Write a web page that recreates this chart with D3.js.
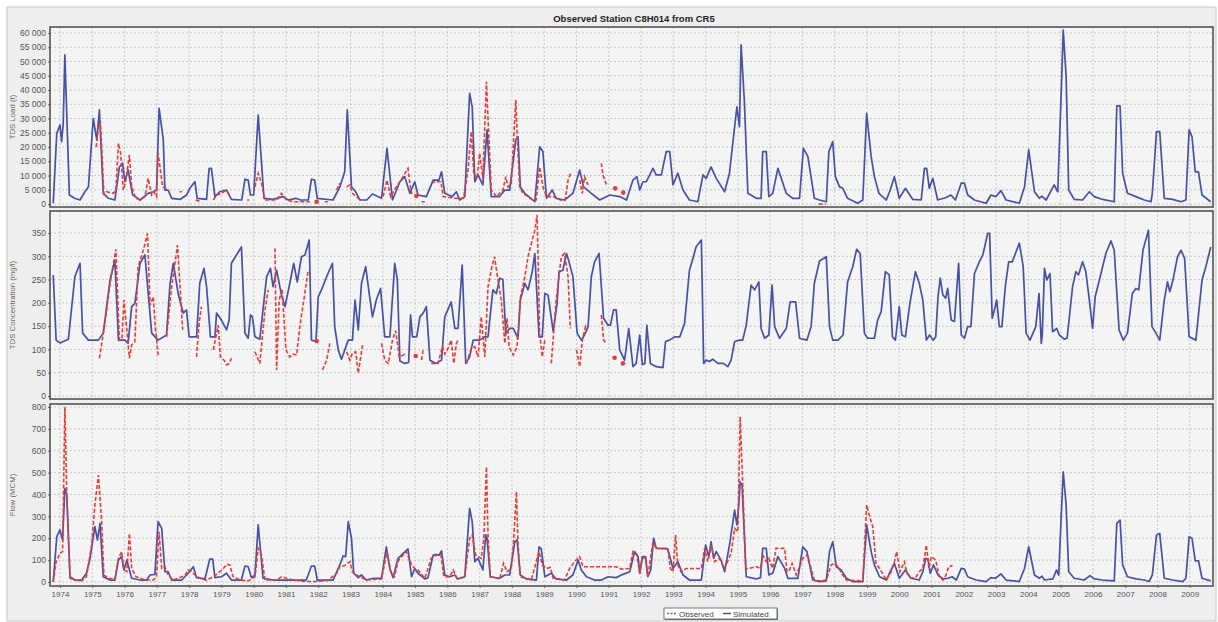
<!DOCTYPE html>
<html>
<head>
<meta charset="utf-8">
<title>Observed Station C8H014 from CR5</title>
<script src="https://d3js.org/d3.v7.min.js"></script>
<style>
  body { margin: 0; background: #fff; }
  text { font-family: "Liberation Sans", Arial, sans-serif; }
</style>
</head>
<body>
<svg width="1218" height="622"></svg>
<script>
// ---- data (decimal year, value); null = gap in the record ----
const years = d3.range(1974, 2010);
const loadTicks = d3.range(0, 60001, 5000);
const concTicks = d3.range(0, 351, 50);
const flowTicks = d3.range(0, 801, 100);
const seriesNames = ["Observed", "Simulated"];

const loadSim = [[1973.79,250],[1973.9,24800],[1974.0,27700],[1974.05,21900],[1974.1,28300],[1974.15,52300],[1974.29,3150],[1974.45,2000],[1974.62,1400],[1974.77,4300],[1974.88,6000],[1975.03,30000],[1975.14,22500],[1975.22,33000],[1975.34,3750],[1975.5,2000],[1975.7,1400],[1975.84,13000],[1975.94,14300],[1976.01,7800],[1976.11,11900],[1976.25,3200],[1976.48,1400],[1976.73,3750],[1976.89,4300],[1976.99,4900],[1977.07,33600],[1977.2,22500],[1977.25,4900],[1977.35,4900],[1977.46,2000],[1977.72,1600],[1977.92,3150],[1978.02,5500],[1978.18,7800],[1978.25,2000],[1978.54,1600],[1978.62,12500],[1978.69,12500],[1978.8,2600],[1978.95,4300],[1979.16,4900],[1979.31,1600],[1979.63,1400],[1979.73,8700],[1979.83,8400],[1979.9,3150],[1980.0,3150],[1980.14,31200],[1980.32,2000],[1980.6,1600],[1980.91,2600],[1981.07,1400],[1981.31,2000],[1981.45,1400],[1981.69,1400],[1981.79,8700],[1981.89,8400],[1981.97,2000],[1982.46,1400],[1982.67,6000],[1982.82,11300],[1982.9,33000],[1983.03,6000],[1983.16,4300],[1983.29,1400],[1983.5,1400],[1983.68,3500],[1983.96,2000],[1984.13,19500],[1984.3,1400],[1984.53,7800],[1984.68,9600],[1984.84,3750],[1984.99,7800],[1985.09,3150],[1985.35,2600],[1985.56,8400],[1985.74,8400],[1985.82,11300],[1985.92,3750],[1986.15,2600],[1986.28,4300],[1986.38,1400],[1986.54,2600],[1986.69,38800],[1986.77,34100],[1986.85,7800],[1986.95,10200],[1987.1,6700],[1987.23,26000],[1987.36,2600],[1987.62,2600],[1987.78,4900],[1987.93,4900],[1988.12,22500],[1988.19,23600],[1988.26,6000],[1988.4,3750],[1988.71,800],[1988.86,20100],[1988.96,18400],[1989.07,2000],[1989.25,4900],[1989.37,2000],[1989.63,1400],[1989.89,3750],[1990.1,11900],[1990.22,6000],[1990.46,3750],[1990.72,1400],[1991.03,3150],[1991.34,2600],[1991.55,1400],[1991.75,8400],[1991.87,9600],[1991.96,4900],[1992.06,7800],[1992.16,7800],[1992.37,12500],[1992.47,10200],[1992.63,10200],[1992.78,18400],[1992.89,18400],[1992.99,6700],[1993.14,10800],[1993.3,4900],[1993.5,1400],[1993.76,800],[1993.92,10200],[1994.02,9000],[1994.17,13000],[1994.33,9000],[1994.59,4300],[1994.74,10800],[1994.9,27100],[1994.97,34100],[1995.05,27100],[1995.1,55800],[1995.2,36500],[1995.31,3750],[1995.57,2000],[1995.72,2000],[1995.77,18400],[1995.88,18400],[1995.96,2600],[1996.08,3750],[1996.24,12500],[1996.5,3750],[1996.7,2000],[1996.91,2000],[1997.03,19500],[1997.17,16600],[1997.37,2000],[1997.53,1400],[1997.74,800],[1997.82,18400],[1997.94,21900],[1998.02,9600],[1998.15,6000],[1998.25,5500],[1998.4,2000],[1998.71,250],[1998.87,1400],[1998.99,31800],[1999.13,16600],[1999.23,9600],[1999.37,3750],[1999.6,1400],[1999.72,4900],[1999.85,9600],[2000.0,2000],[2000.19,5500],[2000.42,1600],[2000.68,1400],[2000.78,12500],[2000.85,12500],[2000.93,5500],[2001.04,9000],[2001.19,1400],[2001.45,2300],[2001.6,3150],[2001.74,1400],[2001.92,7300],[2002.02,7300],[2002.12,3150],[2002.33,1400],[2002.69,250],[2002.84,3150],[2003.0,2600],[2003.15,4700],[2003.31,1400],[2003.72,250],[2003.88,6000],[2004.01,19000],[2004.19,4300],[2004.34,2000],[2004.42,2800],[2004.55,1400],[2004.8,6700],[2004.91,4300],[2005.01,36500],[2005.08,61000],[2005.17,44700],[2005.25,4900],[2005.42,1600],[2005.68,1400],[2005.89,4300],[2006.04,2600],[2006.3,1600],[2006.66,800],[2006.74,34400],[2006.84,34400],[2006.92,10800],[2007.07,3750],[2007.33,2600],[2007.59,1400],[2007.8,800],[2007.84,3750],[2007.97,25400],[2008.07,25400],[2008.21,2000],[2008.47,1600],[2008.73,800],[2008.88,1400],[2008.98,26000],[2009.07,23600],[2009.17,11300],[2009.27,11300],[2009.38,3150],[2009.65,800]];

const loadObs = [[1975.12,20000],[1975.19,27100],[1975.25,29000],[1975.3,18000],[1975.36,3500],[1975.44,4300],[1975.65,3750],[1975.73,4900],[1975.81,21300],[1975.88,17800],[1975.96,4900],[1976.04,8400],[1976.15,17200],[1976.22,6000],[1976.35,2000],[1976.48,1400],[1976.63,2600],[1976.73,9000],[1976.84,3150],[1976.91,4300],[1976.99,2600],[1977.04,17800],[1977.18,6000],[1977.3,5500],null,[1977.7,4300],[1977.78,4300],null,[1978.2,1400],[1978.38,800],null,[1978.75,1400],[1978.85,3150],[1979.0,3750],[1979.16,4900],[1979.26,2600],null,[1979.8,1400],[1979.86,1400],null,[1980.04,6000],[1980.14,10800],[1980.24,7300],[1980.35,1400],[1980.71,1400],[1980.86,3750],[1981.02,1400],[1981.22,800],[1981.45,800],[1981.74,800],null,[1981.95,800],null,[1982.2,800],[1982.3,800],null,[1982.57,4900],[1982.67,7300],null,[1982.88,6000],[1982.98,6700],[1983.06,3750],[1983.18,2600],[1983.31,1400],null,[1984.01,2600],[1984.13,8400],[1984.24,2600],[1984.42,6000],[1984.53,7800],[1984.78,12500],[1984.84,7000],[1984.9,3500],null,[1985.04,2800],null,[1985.2,800],[1985.3,800],null,[1985.5,7300],[1985.61,7800],[1985.8,7800],[1985.87,2600],[1986.23,2000],[1986.5,2000],[1986.64,11900],[1986.74,25400],[1986.82,10800],[1986.92,9000],[1987.0,17800],[1987.1,9000],[1987.21,42900],[1987.29,22500],[1987.36,4900],[1987.52,2600],[1987.72,4900],[1987.81,9600],[1987.88,6000],[1987.98,7000],[1988.03,17800],[1988.12,36500],[1988.17,22000],[1988.24,6000],[1988.34,3750],[1988.65,1400],[1988.75,1400],[1988.86,13000],[1988.96,6000],[1989.07,2600],[1989.28,2600],[1989.5,1400],[1989.65,1400],[1989.74,8400],[1989.84,11300],null,[1990.1,8400],[1990.18,3750],[1990.25,9600],[1990.36,6700],null,[1990.77,14300],[1990.82,10200],[1990.93,6700],null,[1991.2,5500],null,[1991.45,4000],null,[1997.5,0],[1997.72,0]];

const concSim = [[1973.79,260],[1973.88,120],[1974.0,114],[1974.26,122],[1974.46,256],[1974.62,285],[1974.7,135],[1974.88,120],[1975.19,120],[1975.34,135],[1975.55,249],[1975.7,292],[1975.81,120],[1976.01,120],[1976.11,113],[1976.22,192],[1976.32,199],[1976.48,285],[1976.63,303],[1976.84,135],[1977.04,120],[1977.3,131],[1977.41,242],[1977.51,285],[1977.66,220],[1977.82,178],[1977.92,185],[1978.0,127],[1978.23,127],[1978.33,242],[1978.46,274],[1978.54,235],[1978.66,127],[1978.8,127],[1978.85,178],[1979.0,163],[1979.16,142],[1979.24,163],[1979.31,285],[1979.62,320],[1979.73,135],[1979.83,124],[1979.9,174],[1979.96,170],[1980.04,127],[1980.19,122],[1980.4,256],[1980.52,274],[1980.6,235],[1980.71,270],[1980.86,217],[1980.97,192],[1981.12,242],[1981.24,285],[1981.35,245],[1981.48,299],[1981.59,303],[1981.72,335],[1981.79,120],[1981.93,117],[1982.0,213],[1982.1,228],[1982.26,256],[1982.44,285],[1982.51,149],[1982.62,99],[1982.72,79],[1982.93,120],[1983.06,120],[1983.14,206],[1983.24,142],[1983.34,242],[1983.47,278],[1983.58,220],[1983.68,170],[1983.8,206],[1983.93,231],[1984.06,127],[1984.22,127],[1984.37,285],[1984.45,250],[1984.53,75],[1984.68,70],[1984.8,72],[1984.86,174],[1984.92,127],[1985.05,127],[1985.15,170],[1985.25,178],[1985.35,192],[1985.46,77],[1985.66,70],[1985.82,77],[1985.92,170],[1986.12,202],[1986.23,145],[1986.33,145],[1986.46,281],[1986.57,70],[1986.69,84],[1986.8,120],[1987.0,120],[1987.16,127],[1987.26,127],[1987.41,228],[1987.52,220],[1987.62,253],[1987.72,250],[1987.81,135],[1987.93,145],[1988.04,145],[1988.19,124],[1988.26,206],[1988.4,242],[1988.5,228],[1988.63,267],[1988.71,306],[1988.84,127],[1988.94,127],[1989.02,220],[1989.12,217],[1989.28,138],[1989.4,199],[1989.46,267],[1989.58,270],[1989.69,306],[1989.77,288],[1989.89,256],[1990.02,135],[1990.15,120],[1990.25,131],[1990.36,149],[1990.46,256],[1990.56,288],[1990.7,306],[1990.84,167],[1990.98,152],[1991.05,152],[1991.15,185],[1991.23,185],[1991.34,99],[1991.49,77],[1991.62,145],[1991.75,63],[1991.85,70],[1991.96,131],[1992.04,67],[1992.12,70],[1992.18,152],[1992.29,70],[1992.47,63],[1992.68,61],[1992.76,117],[1992.88,120],[1993.04,127],[1993.2,127],[1993.35,156],[1993.5,270],[1993.61,296],[1993.71,321],[1993.87,335],[1993.94,70],[1994.02,77],[1994.12,74],[1994.22,79],[1994.38,70],[1994.55,70],[1994.69,63],[1994.79,77],[1994.9,117],[1995.05,120],[1995.15,120],[1995.26,152],[1995.41,238],[1995.52,228],[1995.65,245],[1995.72,145],[1995.83,124],[1995.96,131],[1996.06,238],[1996.14,149],[1996.29,124],[1996.5,145],[1996.62,202],[1996.79,202],[1996.91,124],[1997.14,120],[1997.27,149],[1997.37,242],[1997.53,290],[1997.74,299],[1997.84,149],[1997.94,120],[1998.1,120],[1998.26,131],[1998.4,245],[1998.56,278],[1998.68,315],[1998.79,306],[1998.92,135],[1999.02,124],[1999.23,124],[1999.33,163],[1999.44,181],[1999.57,267],[1999.69,260],[1999.79,127],[1999.88,120],[2000.0,192],[2000.08,131],[2000.19,127],[2000.33,199],[2000.5,267],[2000.62,242],[2000.73,206],[2000.84,120],[2000.94,131],[2001.05,120],[2001.13,127],[2001.2,213],[2001.27,253],[2001.35,217],[2001.44,210],[2001.5,231],[2001.61,163],[2001.71,160],[2001.84,285],[2001.92,131],[2002.02,124],[2002.12,149],[2002.22,149],[2002.33,263],[2002.48,288],[2002.59,303],[2002.74,349],[2002.8,349],[2002.88,167],[2002.95,185],[2003.02,206],[2003.1,149],[2003.18,149],[2003.29,238],[2003.39,288],[2003.5,288],[2003.72,328],[2003.84,278],[2003.93,135],[2004.05,120],[2004.23,149],[2004.33,220],[2004.4,113],[2004.43,130],[2004.5,274],[2004.57,249],[2004.67,263],[2004.75,138],[2004.88,145],[2004.96,131],[2005.11,122],[2005.2,124],[2005.37,235],[2005.47,267],[2005.55,260],[2005.68,288],[2005.78,267],[2005.89,206],[2005.99,145],[2006.07,213],[2006.2,249],[2006.4,306],[2006.56,333],[2006.66,313],[2006.81,142],[2006.94,120],[2007.07,135],[2007.22,220],[2007.33,231],[2007.42,228],[2007.55,313],[2007.72,356],[2007.83,149],[2007.95,135],[2008.07,120],[2008.21,206],[2008.31,245],[2008.38,224],[2008.48,249],[2008.62,299],[2008.73,313],[2008.84,296],[2008.98,127],[2009.19,120],[2009.38,249],[2009.5,278],[2009.65,320]];

const concObs = [[1975.22,81],[1975.39,156],[1975.55,242],[1975.73,315],[1975.84,120],[1975.92,125],[1975.98,206],[1976.07,142],[1976.15,81],[1976.22,110],[1976.32,117],[1976.42,278],[1976.58,313],[1976.71,349],[1976.79,195],[1976.89,213],[1976.95,150],[1977.04,88],null,[1977.3,127],[1977.46,235],[1977.64,324],[1977.8,142],null,[1978.23,84],[1978.31,156],[1978.38,192],null,[1978.75,99],[1978.9,152],[1978.97,84],[1979.08,77],[1979.16,67],[1979.24,70],[1979.31,81],null,[1980.04,95],[1980.19,70],[1980.35,185],[1980.45,228],null,[1980.66,317],[1980.71,56],[1980.79,206],[1980.88,230],[1981.0,99],[1981.12,84],[1981.22,90],[1981.33,88],[1981.43,149],[1981.69,270],null,[1981.95,118],null,[1982.13,56],[1982.26,77],[1982.36,113],null,[1982.88,95],[1982.98,77],[1983.06,92],[1983.16,95],[1983.24,49],[1983.38,113],null,[1983.96,113],[1984.06,77],[1984.17,70],[1984.3,120],[1984.4,140],[1984.51,84],[1984.53,84],[1984.73,92],null,[1985.02,86],null,[1985.2,77],[1985.25,100],null,[1985.5,70],[1985.71,70],[1985.85,106],[1985.92,90],[1986.02,102],[1986.12,120],[1986.2,70],[1986.28,113],[1986.33,120],null,[1986.59,70],[1986.74,102],[1986.85,106],[1986.95,84],[1987.05,170],[1987.16,84],[1987.26,235],[1987.39,281],[1987.46,299],[1987.57,249],[1987.67,206],[1987.78,113],[1987.85,167],[1987.91,106],[1988.04,88],[1988.16,106],[1988.26,210],[1988.4,256],[1988.51,303],[1988.71,356],[1988.78,389],[1988.86,135],[1988.94,84],[1989.02,120],null,[1989.22,70],[1989.37,206],[1989.53,299],[1989.63,306],[1989.74,256],[1989.81,145],null,[1990.0,99],[1990.1,63],[1990.18,120],[1990.28,149],[1990.33,140],null,[1990.77,174],[1990.84,120],[1990.93,113],null,[1991.18,82],null,[1991.44,70]];

const flowSim = [[1973.79,0],[1973.9,207],[1974.0,238],[1974.08,192],[1974.15,428],[1974.21,398],[1974.31,24],[1974.46,9],[1974.67,9],[1974.82,40],[1974.93,108],[1975.08,253],[1975.16,192],[1975.24,268],[1975.34,24],[1975.55,9],[1975.7,9],[1975.81,100],[1975.91,116],[1975.98,55],[1976.07,100],[1976.22,17],[1976.48,9],[1976.68,9],[1976.79,32],[1976.94,35],[1977.04,276],[1977.15,245],[1977.25,47],[1977.35,47],[1977.46,9],[1977.77,9],[1977.97,40],[1978.13,70],[1978.23,20],[1978.49,14],[1978.64,105],[1978.73,105],[1978.8,20],[1979.0,24],[1979.16,40],[1979.31,9],[1979.62,9],[1979.73,73],[1979.83,70],[1979.93,20],[1980.04,32],[1980.14,261],[1980.29,17],[1980.6,9],[1981.02,9],[1981.63,9],[1981.79,73],[1981.89,73],[1981.97,9],[1982.46,9],[1982.67,78],[1982.77,119],[1982.85,116],[1982.93,276],[1983.03,200],[1983.1,40],[1983.24,20],[1983.34,32],[1983.49,9],[1983.7,17],[1983.96,17],[1984.11,161],[1984.22,62],[1984.32,20],[1984.47,108],[1984.53,116],[1984.78,151],[1984.89,24],[1984.99,62],[1985.09,40],[1985.3,14],[1985.4,20],[1985.56,123],[1985.66,126],[1985.74,122],[1985.82,142],[1985.92,32],[1986.07,24],[1986.23,32],[1986.33,14],[1986.54,24],[1986.69,337],[1986.77,276],[1986.85,93],[1986.95,108],[1987.1,55],[1987.19,215],[1987.23,200],[1987.33,24],[1987.62,17],[1987.78,32],[1987.93,32],[1988.09,184],[1988.16,192],[1988.26,32],[1988.45,14],[1988.76,9],[1988.84,161],[1988.91,151],[1989.02,24],[1989.22,40],[1989.37,14],[1989.69,9],[1989.89,32],[1990.05,100],[1990.15,55],[1990.31,24],[1990.56,9],[1990.77,9],[1990.98,24],[1991.23,20],[1991.44,35],[1991.65,47],[1991.8,139],[1991.91,116],[1991.96,40],[1992.04,116],[1992.14,116],[1992.21,24],[1992.3,55],[1992.39,200],[1992.47,154],[1992.83,151],[1992.99,62],[1993.14,93],[1993.3,32],[1993.5,9],[1993.87,9],[1994.0,169],[1994.1,116],[1994.17,184],[1994.25,108],[1994.33,139],[1994.48,100],[1994.59,47],[1994.74,169],[1994.9,329],[1994.97,261],[1995.03,352],[1995.07,458],[1995.13,443],[1995.26,24],[1995.57,14],[1995.7,20],[1995.77,154],[1995.88,154],[1995.96,32],[1996.08,40],[1996.24,116],[1996.45,62],[1996.55,17],[1996.86,17],[1997.01,161],[1997.14,139],[1997.32,9],[1997.53,2],[1997.74,5],[1997.84,139],[1997.94,184],[1998.05,70],[1998.2,55],[1998.36,17],[1998.56,2],[1998.87,2],[1998.99,261],[1999.13,139],[1999.23,78],[1999.39,24],[1999.6,9],[1999.72,47],[1999.85,85],[2000.0,17],[2000.19,55],[2000.36,17],[2000.62,9],[2000.73,47],[2000.82,108],[2000.89,105],[2000.96,40],[2001.06,78],[2001.2,32],[2001.35,14],[2001.51,17],[2001.64,24],[2001.77,9],[2001.92,62],[2002.02,59],[2002.12,24],[2002.38,9],[2002.69,2],[2002.84,20],[2002.98,17],[2003.15,37],[2003.31,9],[2003.72,2],[2003.88,62],[2004.01,161],[2004.19,32],[2004.34,17],[2004.42,27],[2004.5,9],[2004.76,14],[2004.87,55],[2004.94,32],[2005.01,276],[2005.08,504],[2005.17,352],[2005.25,47],[2005.42,17],[2005.73,9],[2005.91,29],[2006.04,14],[2006.3,9],[2006.66,5],[2006.74,268],[2006.84,283],[2006.92,78],[2007.07,24],[2007.33,14],[2007.59,9],[2007.74,2],[2007.84,32],[2007.97,215],[2008.07,222],[2008.21,17],[2008.47,9],[2008.78,2],[2008.88,17],[2008.98,207],[2009.07,200],[2009.17,97],[2009.27,97],[2009.38,17],[2009.65,5]];

const flowObs = [[1973.79,0],[1973.88,93],[1974.0,131],[1974.08,139],[1974.15,801],[1974.21,398],[1974.31,17],[1974.46,9],[1974.67,5],[1974.82,24],[1974.98,169],[1975.08,352],[1975.19,489],[1975.29,276],[1975.36,32],[1975.5,17],[1975.7,14],[1975.81,108],[1975.91,139],[1975.98,55],[1976.07,47],[1976.15,222],[1976.22,62],[1976.35,25],[1976.48,17],[1976.68,9],[1976.89,9],[1976.99,24],[1977.07,230],[1977.15,62],[1977.25,70],[1977.35,32],[1977.51,9],[1977.77,24],[1977.88,32],[1977.97,55],[1978.08,47],[1978.18,32],[1978.33,17],[1978.54,9],[1978.75,24],[1978.95,47],[1979.06,62],[1979.16,81],[1979.26,78],[1979.36,24],[1979.57,9],[1979.83,5],[1980.04,24],[1980.14,154],[1980.24,123],[1980.35,9],[1980.71,9],[1980.86,24],[1981.02,17],[1981.22,9],[1981.63,2],[1981.95,2],[1982.31,8],[1982.57,40],[1982.67,70],[1982.82,75],[1982.98,93],[1983.06,47],[1983.18,32],[1983.3,25],[1983.49,9],[1983.96,14],[1984.13,139],[1984.24,47],[1984.36,25],[1984.47,93],[1984.53,108],[1984.73,139],[1984.89,78],[1984.99,62],[1985.09,55],[1985.3,17],[1985.5,108],[1985.66,123],[1985.8,123],[1985.89,24],[1986.07,24],[1986.18,55],[1986.3,15],[1986.54,24],[1986.69,200],[1986.77,215],[1986.88,123],[1987.05,108],[1987.13,200],[1987.21,527],[1987.26,215],[1987.33,24],[1987.62,14],[1987.74,85],[1987.85,47],[1987.98,62],[1988.05,184],[1988.14,413],[1988.19,169],[1988.26,24],[1988.6,9],[1988.84,139],[1988.94,78],[1989.07,62],[1989.19,66],[1989.28,17],[1989.63,9],[1989.79,62],[1989.94,93],[1990.1,116],[1990.2,70],[1990.31,70],[1990.72,70],[1991.23,70],[1991.39,59],[1991.65,62],[1991.75,139],[1991.87,123],[1991.96,40],[1992.04,108],[1992.14,112],[1992.21,24],[1992.37,184],[1992.47,154],[1992.83,154],[1992.91,62],[1992.99,47],[1993.07,215],[1993.14,78],[1993.24,47],[1993.4,62],[1993.61,62],[1993.87,62],[1993.97,154],[1994.07,93],[1994.17,169],[1994.28,93],[1994.43,108],[1994.59,62],[1994.79,131],[1994.9,245],[1995.0,230],[1995.07,756],[1995.16,413],[1995.24,62],[1995.36,62],[1995.57,70],[1995.7,62],[1995.77,123],[1995.88,93],[1995.96,108],[1996.08,62],[1996.18,154],[1996.45,154],[1996.52,47],[1996.6,55],[1996.68,85],[1996.81,32],[1997.01,108],[1997.14,123],[1997.27,62],[1997.37,9],[1997.53,5],[1997.74,9],[1997.89,78],[1997.99,85],[1998.1,70],[1998.25,32],[1998.36,9],[1998.87,5],[1998.99,352],[1999.07,306],[1999.18,253],[1999.28,85],[1999.39,62],[1999.6,9],[1999.75,47],[1999.85,93],[1999.92,139],[2000.02,47],[2000.16,93],[2000.24,40],[2000.36,17],[2000.52,24],[2000.62,47],[2000.73,62],[2000.84,169],[2000.92,62],[2000.99,116],[2001.13,100],[2001.24,24],[2001.35,9],[2001.45,32],[2001.53,70],[2001.65,75]];

// ---- layout ----
const svg = d3.select("svg");
const RED = "#e83a36", BLUE = "#4552a6";
const left = 50, right = 1213;

svg.append("rect").attr("x", 7).attr("y", 7).attr("width", 1209).attr("height", 614)
  .attr("fill", "#eeeeee").attr("stroke", "#c8c8c8");

svg.append("text").attr("x", 634).attr("y", 22).attr("text-anchor", "middle")
  .attr("font-size", 9.5).attr("font-weight", "bold").attr("fill", "#222")
  .text("Observed Station C8H014 from CR5");

const x = d3.scaleLinear().domain([1973.69, 2009.72]).range([left, right]);

const panels = [
  { top: 27, bottom: 207, domain: [0, 60000], range: [204, 33], ticks: loadTicks,
    label: "TDS Load (t)", sim: loadSim, obs: loadObs, fmt: d => d3.format(",")(d).replace(/,/g, " ") },
  { top: 211, bottom: 399, domain: [0, 350], range: [396, 233], ticks: concTicks,
    label: "TDS Concentration (mg/l)", sim: concSim, obs: concObs, fmt: d => d },
  { top: 404, bottom: 586, domain: [0, 800], range: [582, 407], ticks: flowTicks,
    label: "Flow (MCM)", sim: flowSim, obs: flowObs, fmt: d => d }
];

panels.forEach((p, i) => {
  const y = d3.scaleLinear().domain(p.domain).range(p.range);
  const g = svg.append("g");

  g.append("rect").attr("x", left).attr("y", p.top).attr("width", right - left)
    .attr("height", p.bottom - p.top).attr("fill", "#f4f4f4");

  // grid
  g.selectAll(".vg").data(years).join("line")
    .attr("x1", d => x(d)).attr("x2", d => x(d)).attr("y1", p.top).attr("y2", p.bottom)
    .attr("stroke", "#bcbcbc").attr("stroke-width", 0.8).attr("stroke-dasharray", "2,2");
  g.selectAll(".hg").data(p.ticks).join("line")
    .attr("x1", left).attr("x2", right).attr("y1", d => y(d)).attr("y2", d => y(d))
    .attr("stroke", "#bcbcbc").attr("stroke-width", 0.8).attr("stroke-dasharray", "2,2");

  // y axis
  const ax = g.append("g").attr("transform", `translate(${left},0)`)
    .call(d3.axisLeft(y).tickValues(p.ticks).tickFormat(p.fmt).tickSize(2).tickPadding(2));
  ax.select(".domain").remove();
  ax.selectAll("line").attr("stroke", "#666");
  ax.selectAll("text").attr("font-size", 8.5).attr("fill", "#555")
    .attr("font-family", "Liberation Sans, Arial, sans-serif");

  g.append("text")
    .attr("transform", `translate(15,${(p.top + p.bottom) / 2}) rotate(-90)`)
    .attr("text-anchor", "middle").attr("font-size", 7.8).attr("fill", "#666")
    .text(p.label);

  // clip
  const cid = "clip" + i;
  svg.append("clipPath").attr("id", cid).append("rect")
    .attr("x", left).attr("y", p.top).attr("width", right - left).attr("height", p.bottom - p.top);
  const plot = g.append("g").attr("clip-path", `url(#${cid})`);

  const line = d3.line().defined(d => d !== null).x(d => x(d[0])).y(d => y(d[1]));

  plot.append("path").datum(p.sim).attr("d", line).attr("fill", "none")
    .attr("stroke", BLUE).attr("stroke-width", 1.7).attr("stroke-linejoin", "round");
  plot.append("path").datum(p.obs).attr("d", line).attr("fill", "none")
    .attr("stroke", RED).attr("stroke-width", 1.6).attr("stroke-dasharray", "4,2");

  // isolated observations drawn as dots
  const lonely = p.obs.filter((d, k, a) => d !== null && !a[k - 1] && !a[k + 1]);
  plot.selectAll(".dot").data(lonely).join("circle")
    .attr("cx", d => x(d[0])).attr("cy", d => y(d[1])).attr("r", 2.3).attr("fill", RED);

  g.append("rect").attr("x", left).attr("y", p.top).attr("width", right - left)
    .attr("height", p.bottom - p.top).attr("fill", "none").attr("stroke", "#4a4a4a").attr("stroke-width", 1.5);

  if (i === panels.length - 1) {
    const xa = g.append("g").attr("transform", `translate(0,${p.bottom})`)
      .call(d3.axisBottom(x).tickValues(years).tickFormat(d => d).tickSize(2).tickPadding(3));
    xa.select(".domain").remove();
    xa.selectAll("line").attr("stroke", "#666");
    xa.selectAll("text").attr("font-size", 8).attr("fill", "#555")
      .attr("font-family", "Liberation Sans, Arial, sans-serif");
  }
});

// legend
const lg = svg.append("g").attr("transform", "translate(664,608)");
lg.append("rect").attr("x", 1).attr("y", 1).attr("width", 113).attr("height", 11).attr("fill", "#777");
lg.append("rect").attr("width", 113).attr("height", 11).attr("fill", "#fff")
  .attr("stroke", "#555").attr("stroke-width", 0.8);
lg.append("line").attr("x1", 3).attr("x2", 13).attr("y1", 5.5).attr("y2", 5.5)
  .attr("stroke", RED).attr("stroke-width", 1.5).attr("stroke-dasharray", "2,1.5");
lg.append("text").attr("x", 15).attr("y", 8.5).attr("font-size", 8).attr("fill", "#444").text(seriesNames[0]);
lg.append("line").attr("x1", 59).attr("x2", 67).attr("y1", 5.5).attr("y2", 5.5)
  .attr("stroke", BLUE).attr("stroke-width", 1.5);
lg.append("text").attr("x", 69).attr("y", 8.5).attr("font-size", 8).attr("fill", "#444").text(seriesNames[1]);
</script>
</body>
</html>
